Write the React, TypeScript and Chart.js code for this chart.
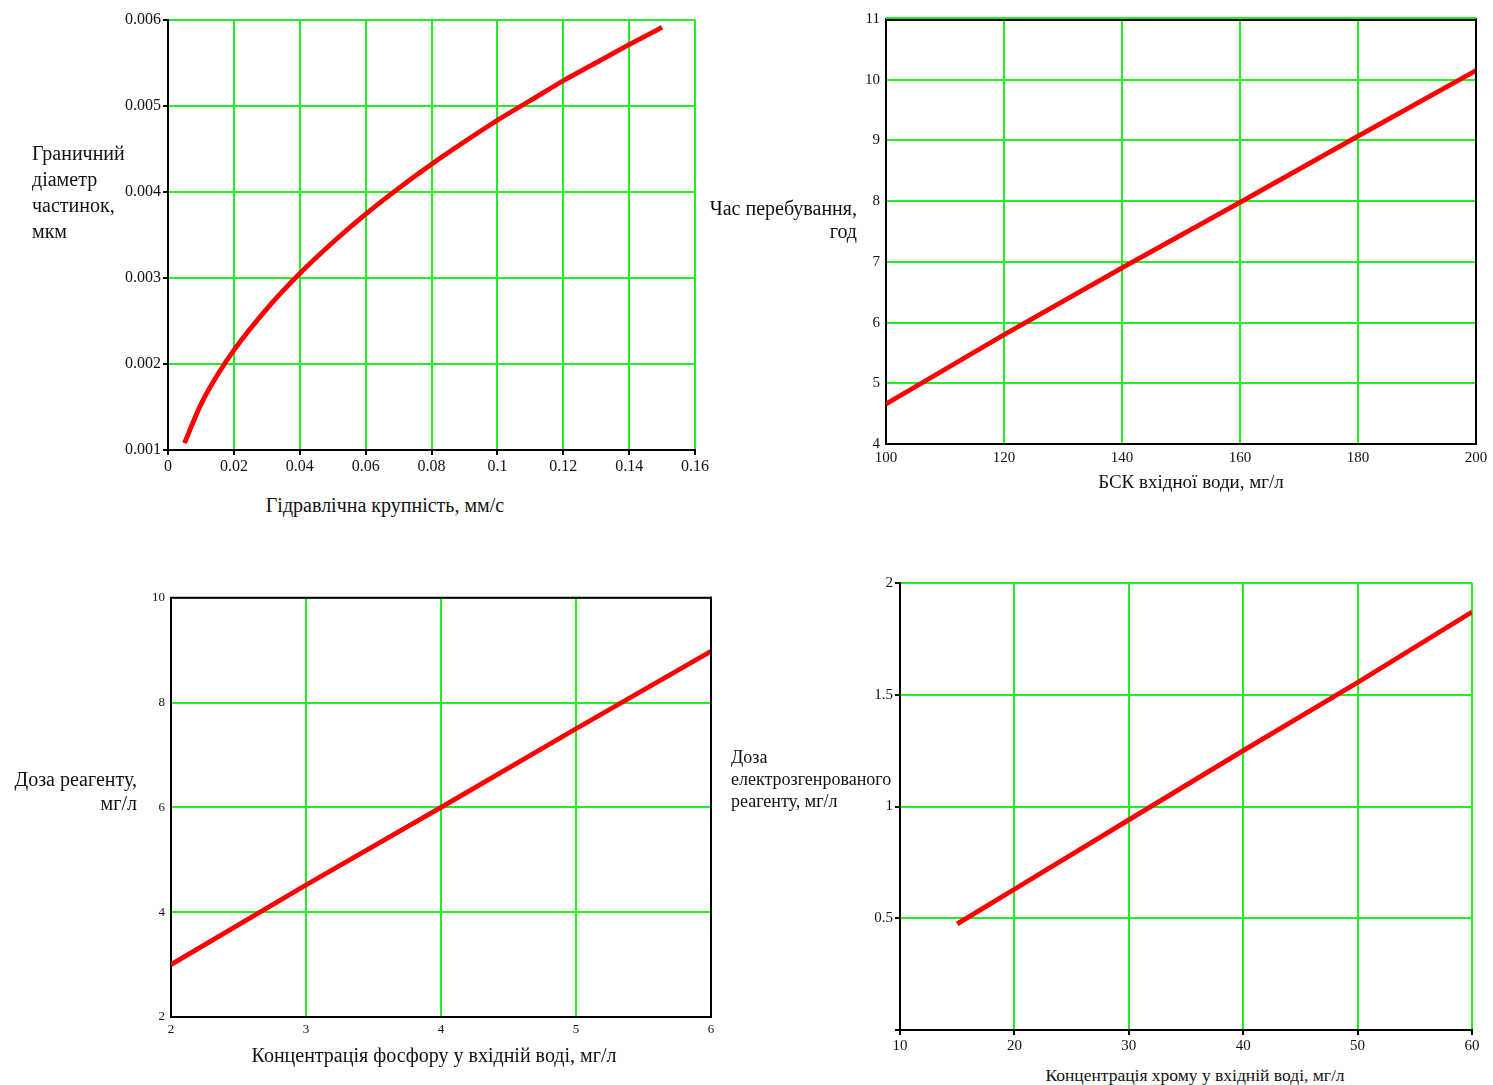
import React, { useEffect, useRef } from 'react';
import { Chart, registerables } from 'chart.js';

Chart.register(...registerables);

// ---- Chart 1: Граничний діаметр частинок vs Гідравлічна крупність
const hydX = [0.005, 0.01, 0.015, 0.02, 0.03, 0.04, 0.05, 0.06, 0.07, 0.08, 0.09, 0.1, 0.11, 0.12, 0.13, 0.14, 0.15];
const hydY = [0.00108, 0.00153, 0.00187, 0.00216, 0.00264, 0.00305, 0.00341, 0.00374, 0.00404, 0.00432, 0.00458, 0.00483, 0.00506, 0.00529, 0.0055, 0.00571, 0.00591];
const hydXTicks = [0, 0.02, 0.04, 0.06, 0.08, 0.1, 0.12, 0.14, 0.16];
const hydXLabels = ['0', '0.02', '0.04', '0.06', '0.08', '0.1', '0.12', '0.14', '0.16'];
const hydYTicks = [0.001, 0.002, 0.003, 0.004, 0.005, 0.006];
const hydYLabels = ['0.001', '0.002', '0.003', '0.004', '0.005', '0.006'];

// ---- Chart 2: Час перебування vs БСК
const bskX = [100, 120, 140, 160, 180, 200];
const bskY = [4.66, 5.8, 6.9, 7.98, 9.07, 10.15];
const bskXTicks = [100, 120, 140, 160, 180, 200];
const bskXLabels = ['100', '120', '140', '160', '180', '200'];
const bskYTicks = [4, 5, 6, 7, 8, 9, 10, 11];
const bskYLabels = ['4', '5', '6', '7', '8', '9', '10', '11'];

// ---- Chart 3: Доза реагенту vs Концентрація фосфору
const phosX = [2, 3, 4, 5, 6];
const phosY = [3.0, 4.52, 6.0, 7.5, 8.98];
const phosXTicks = [2, 3, 4, 5, 6];
const phosXLabels = ['2', '3', '4', '5', '6'];
const phosYTicks = [2, 4, 6, 8, 10];
const phosYLabels = ['2', '4', '6', '8', '10'];

// ---- Chart 4: Доза електрозгенрованого реагенту vs Концентрація хрому
const chrX = [15, 20, 30, 40, 50, 60];
const chrY = [0.475, 0.63, 0.94, 1.25, 1.555, 1.87];
const chrXTicks = [10, 20, 30, 40, 50, 60];
const chrXLabels = ['10', '20', '30', '40', '50', '60'];
const chrYTicks = [0, 0.5, 1, 1.5, 2];
const chrYLabels = ['', '0.5', '1', '1.5', '2'];

const GREEN = '#22ee22';
const RED = '#ff0000';
const TEXT = '#111111';
const FONT = "'Liberation Serif', 'Times New Roman', serif";

const PADL = 70;
const PADT = 10;
const PADR = 25;
const PADB = 30;

type Box = { L: number; T: number; R: number; B: number };

type PanelProps = {
  box: Box;
  xs: number[];
  ys: number[];
  xTicks: number[];
  xLabels: string[];
  yTicks: number[];
  yLabels: string[];
  drawTicks: boolean;
  frameTop: 'green' | 'black' | 'both';
  frameRight: 'green' | 'black';
  smooth: boolean;
  tickSize: number;
};

function Panel(p: PanelProps) {
  const ref = useRef<HTMLCanvasElement | null>(null);
  useEffect(() => {
    if (!ref.current) return;
    const data = p.xs.map((x, i) => ({ x, y: p.ys[i] }));
    const framePlugin = {
      id: 'frame',
      afterDraw(chart: any) {
        const { ctx, chartArea } = chart;
        const { left, top, right, bottom } = chartArea;
        ctx.save();
        ctx.lineWidth = 2;
        if (p.frameRight === 'black') {
          ctx.strokeStyle = '#000';
          ctx.beginPath();
          ctx.moveTo(right, top - 1);
          ctx.lineTo(right, bottom + 1);
          ctx.stroke();
        }
        if (p.frameTop === 'black' || p.frameTop === 'both') {
          ctx.strokeStyle = '#000';
          ctx.beginPath();
          ctx.moveTo(left - 1, top + (p.frameTop === 'both' ? 1 : 0));
          ctx.lineTo(right + 1, top + (p.frameTop === 'both' ? 1 : 0));
          ctx.stroke();
        }
        if (p.frameTop === 'both') {
          ctx.strokeStyle = GREEN;
          ctx.beginPath();
          ctx.moveTo(left, top - 1);
          ctx.lineTo(right, top - 1);
          ctx.stroke();
        }
        ctx.restore();
      },
    };
    const mkLabel = (ticks: number[], labels: string[]) => (v: any) => {
      const i = ticks.findIndex((t) => Math.abs(t - Number(v)) < 1e-9);
      return i >= 0 ? labels[i] : '';
    };
    const chart = new Chart(ref.current, {
      type: 'line',
      data: {
        datasets: [
          {
            data,
            borderColor: RED,
            borderWidth: 4.8,
            pointRadius: 0,
            fill: false,
            tension: 0,
            cubicInterpolationMode: p.smooth ? 'monotone' : 'default',
          },
        ],
      },
      options: {
        animation: false,
        responsive: false,
        maintainAspectRatio: false,
        layout: { padding: { left: 0, top: PADT, right: PADR, bottom: 0 } },
        plugins: { legend: { display: false }, tooltip: { enabled: false } },
        scales: {
          x: {
            type: 'linear',
            min: p.xTicks[0],
            max: p.xTicks[p.xTicks.length - 1],
            afterBuildTicks: (axis: any) => {
              axis.ticks = p.xTicks.map((v) => ({ value: v }));
            },
            afterFit: (axis: any) => {
              axis.height = PADB;
            },
            ticks: {
              autoSkip: false,
              maxRotation: 0,
              padding: p.drawTicks ? 2 : 5,
              color: TEXT,
              font: { family: FONT, size: p.tickSize },
              callback: mkLabel(p.xTicks, p.xLabels),
            },
            grid: {
              color: GREEN,
              lineWidth: 2,
              drawTicks: p.drawTicks,
              tickLength: 5,
              tickColor: '#000',
              tickWidth: 2,
            },
            border: { color: '#000', width: 2 },
          },
          y: {
            type: 'linear',
            min: p.yTicks[0],
            max: p.yTicks[p.yTicks.length - 1],
            afterBuildTicks: (axis: any) => {
              axis.ticks = p.yTicks.map((v) => ({ value: v }));
            },
            afterFit: (axis: any) => {
              axis.width = PADL;
            },
            ticks: {
              autoSkip: false,
              padding: p.drawTicks ? 2 : 6,
              color: TEXT,
              font: { family: FONT, size: p.tickSize },
              callback: mkLabel(p.yTicks, p.yLabels),
            },
            grid: {
              color: GREEN,
              lineWidth: 2,
              drawTicks: p.drawTicks,
              tickLength: 5,
              tickColor: '#000',
              tickWidth: 2,
            },
            border: { color: '#000', width: 2 },
          },
        },
      } as any,
      plugins: [framePlugin],
    });
    return () => chart.destroy();
  }, []);
  const { L, T, R, B } = p.box;
  const w = R - L + PADL + PADR;
  const h = B - T + PADT + PADB;
  return (
    <canvas
      ref={ref}
      width={w}
      height={h}
      style={{ position: 'absolute', left: L - PADL, top: T - PADT, width: w, height: h }}
    />
  );
}

type TitleProps = {
  lines: string[];
  x: number;
  y: number;
  align: 'left' | 'right' | 'center';
  lh: number;
  size?: number;
};

function Title({ lines, x, y, align, lh, size = 20 }: TitleProps) {
  const width = 500;
  const left = align === 'left' ? x : align === 'right' ? x - width : x - width / 2;
  return (
    <div
      style={{
        position: 'absolute',
        left,
        top: y - lh / 2,
        width,
        textAlign: align,
        fontFamily: FONT,
        fontSize: size,
        lineHeight: lh + 'px',
        color: TEXT,
        whiteSpace: 'nowrap',
      }}
    >
      {lines.map((s, i) => (
        <div key={i}>{s}</div>
      ))}
    </div>
  );
}

export default function App() {
  return (
    <div
      style={{
        position: 'absolute',
        left: 0,
        top: 0,
        width: 1493,
        height: 1085,
        background: '#fff',
        overflow: 'hidden',
      }}
    >
      <Panel
        box={{ L: 168, T: 18, R: 695, B: 450 }}
        xs={hydX}
        ys={hydY}
        xTicks={hydXTicks}
        xLabels={hydXLabels}
        yTicks={hydYTicks}
        yLabels={hydYLabels}
        drawTicks={true}
        frameTop="green"
        frameRight="green"
        smooth={true}
        tickSize={16}
      />
      <Panel
        box={{ L: 886, T: 14, R: 1476, B: 444 }}
        xs={bskX}
        ys={bskY}
        xTicks={bskXTicks}
        xLabels={bskXLabels}
        yTicks={bskYTicks}
        yLabels={bskYLabels}
        drawTicks={false}
        frameTop="both"
        frameRight="black"
        smooth={false}
        tickSize={15}
      />
      <Panel
        box={{ L: 171, T: 594, R: 711, B: 1017 }}
        xs={phosX}
        ys={phosY}
        xTicks={phosXTicks}
        xLabels={phosXLabels}
        yTicks={phosYTicks}
        yLabels={phosYLabels}
        drawTicks={false}
        frameTop="black"
        frameRight="black"
        smooth={false}
        tickSize={13}
      />
      <Panel
        box={{ L: 900, T: 582, R: 1472, B: 1030 }}
        xs={chrX}
        ys={chrY}
        xTicks={chrXTicks}
        xLabels={chrXLabels}
        yTicks={chrYTicks}
        yLabels={chrYLabels}
        drawTicks={true}
        frameTop="green"
        frameRight="green"
        smooth={false}
        tickSize={15}
      />

      <Title lines={['Граничний', 'діаметр', 'частинок,', 'мкм']} x={32} y={153} align="left" lh={26} />
      <Title lines={['Гідравлічна крупність, мм/с']} x={385} y={505} align="center" lh={24} />
      <Title lines={['Час перебування,', 'год']} x={857} y={208} align="right" lh={23} />
      <Title lines={['БСК вхідної води, мг/л']} x={1191} y={482} align="center" lh={24} size={19} />
      <Title lines={['Доза реагенту,', 'мг/л']} x={137} y={779} align="right" lh={24} />
      <Title lines={['Концентрація фосфору у вхідній воді, мг/л']} x={434} y={1055} align="center" lh={24} />
      <Title lines={['Доза', 'електрозгенрованого', 'реагенту, мг/л']} x={731} y={757} align="left" lh={22} size={18} />
      <Title lines={['Концентрація хрому у вхідній воді, мг/л']} x={1195} y={1075} align="center" lh={24} size={17.5} />
    </div>
  );
}
